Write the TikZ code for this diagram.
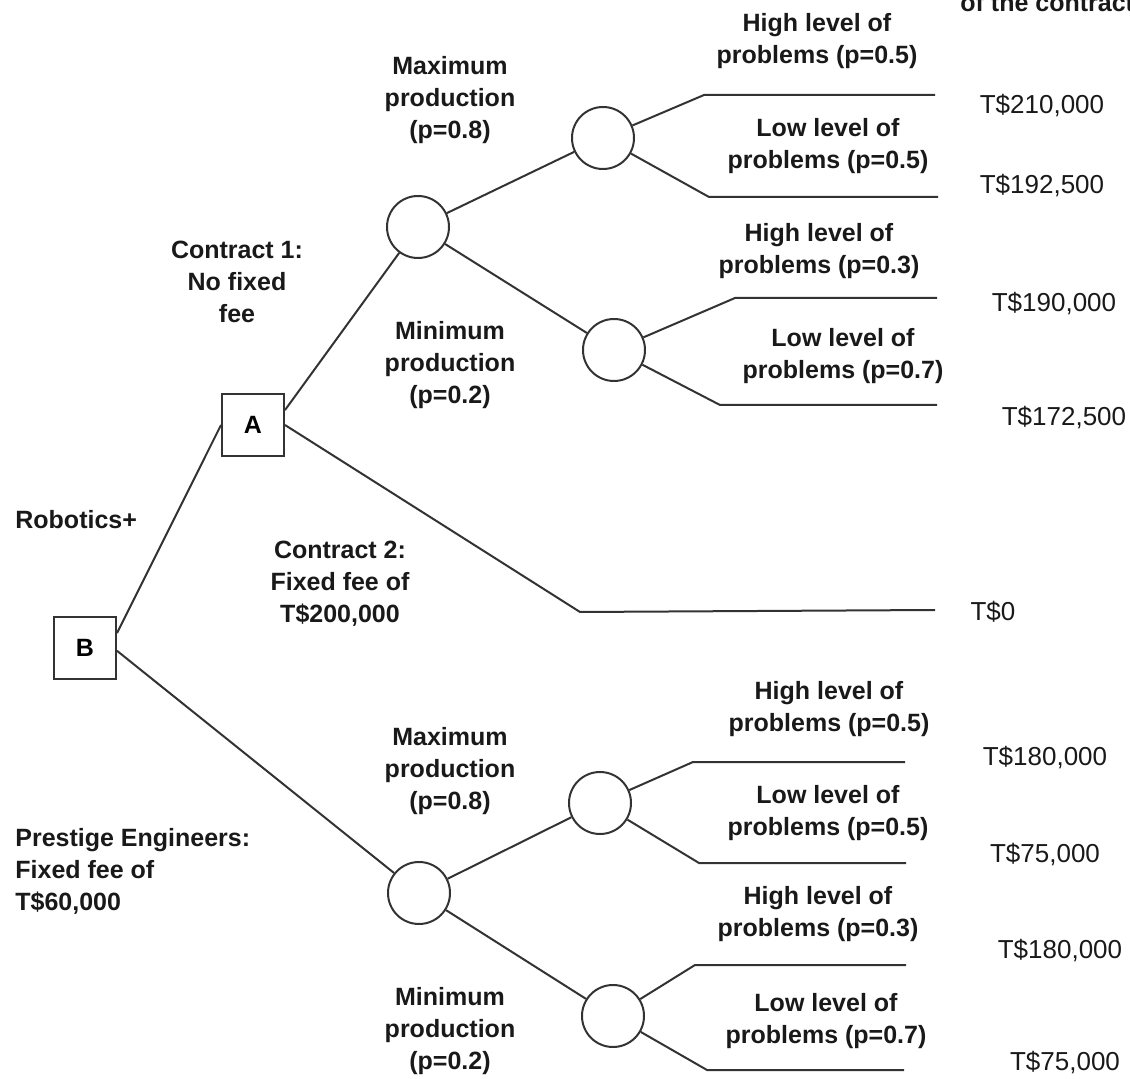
\documentclass[tikz,border=0pt]{standalone}
\usepackage{fontspec}
\setmainfont{Liberation Sans}
\tikzset{
  decision/.style={draw=black!80,line width=1pt,rectangle,minimum size=31pt,inner sep=0pt,font=\fontsize{12.5}{16}\selectfont\bfseries},
  chance/.style={draw=black!80,line width=1pt,circle,minimum size=31pt,inner sep=0pt},
  branch/.style={draw=black!80,line width=1pt},
  lbl/.style={align=center,inner sep=0pt,text=black!90,font=\fontsize{12.5}{16}\selectfont\bfseries},
  val/.style={inner sep=0pt,text=black!90,font=\fontsize{13}{16}\selectfont}
}
\begin{document}
\begin{tikzpicture}[x=0.5pt,y=-0.5pt]
    \useasboundingbox (0,0) rectangle (1130,1079);
    %% Cut-off heading
    \node[lbl,anchor=base west] (head) at (960,12) {of the contract};
    %% Decision nodes
    \node[decision] (B) at (85,648) {B};
    \node[decision] (A) at (253,425) {A};
    %% Chance nodes
    \node[chance] (C1) at (418,227) {};
    \node[chance] (C2) at (603,138) {};
    \node[chance] (C3) at (614,350) {};
    \node[chance] (C4) at (419,893) {};
    \node[chance] (C5) at (600,803) {};
    \node[chance] (C6) at (613,1016) {};
    %% Branch ends
    \coordinate (k2a) at (704,95);   \coordinate (e2a) at (935,95);
    \coordinate (k2b) at (709,197);  \coordinate (e2b) at (938,197);
    \coordinate (k3a) at (735,298);  \coordinate (e3a) at (937,298);
    \coordinate (k3b) at (720,405);  \coordinate (e3b) at (937,405);
    \coordinate (k0)  at (580,612);  \coordinate (e0)  at (935,610);
    \coordinate (k5a) at (693,762);  \coordinate (e5a) at (905,762);
    \coordinate (k5b) at (699,863);  \coordinate (e5b) at (906,863);
    \coordinate (k6a) at (695,965);  \coordinate (e6a) at (906,965);
    \coordinate (k6b) at (707,1070); \coordinate (e6b) at (904,1070);
    %% Connectors
    \draw[branch] (B.25) -- (A.west);
    \draw[branch] (B.-5) -- (C4);
    \draw[branch] (A.25) -- (C1);
    \draw[branch] (A.east) -- (k0) -- (e0);
    \draw[branch] (C1) -- (C2);
    \draw[branch] (C1) -- (C3);
    \draw[branch] (C2) -- (k2a) -- (e2a);
    \draw[branch] (C2) -- (k2b) -- (e2b);
    \draw[branch] (C3) -- (k3a) -- (e3a);
    \draw[branch] (C3) -- (k3b) -- (e3b);
    \draw[branch] (C4) -- (C5);
    \draw[branch] (C4) -- (C6);
    \draw[branch] (C5) -- (k5a) -- (e5a);
    \draw[branch] (C5) -- (k5b) -- (e5b);
    \draw[branch] (C6) -- (k6a) -- (e6a);
    \draw[branch] (C6) -- (k6b) -- (e6b);
    %% Labels, upper tree
    \node[lbl] (con1) at (237,282) {Contract 1:\\No fixed\\fee};
    \node[lbl] (max1) at (450,100) {Maximum\\production\\(p=0.8)};
    \node[lbl] (min1) at (450,365) {Minimum\\production\\(p=0.2)};
    \node[lbl] (hi2) at (817,41) {High level of\\problems (p=0.5)};
    \node[lbl] (lo2) at (828,146) {Low level of\\problems (p=0.5)};
    \node[lbl] (hi3) at (819,251) {High level of\\problems (p=0.3)};
    \node[lbl] (lo3) at (843,356) {Low level of\\problems (p=0.7)};
    \node[lbl,anchor=west] (rob) at (15,520) {Robotics+};
    \node[lbl] (con2) at (340,584) {Contract 2:\\Fixed fee of\\T\$200,000};
    %% Labels, lower tree
    \node[lbl,align=left,anchor=west] (pres) at (15,871) {Prestige Engineers:\\Fixed fee of\\T\$60,000};
    \node[lbl] (max4) at (450,771) {Maximum\\production\\(p=0.8)};
    \node[lbl] (min4) at (450,1031) {Minimum\\production\\(p=0.2)};
    \node[lbl] (hi5) at (829,709) {High level of\\problems (p=0.5)};
    \node[lbl] (lo5) at (828,813) {Low level of\\problems (p=0.5)};
    \node[lbl] (hi6) at (818,914) {High level of\\problems (p=0.3)};
    \node[lbl] (lo6) at (826,1021) {Low level of\\problems (p=0.7)};
    %% Payoffs
    \node[val] (v1) at (1042,106) {T\$210,000};
    \node[val] (v2) at (1042,186) {T\$192,500};
    \node[val] (v3) at (1054,304) {T\$190,000};
    \node[val] (v4) at (1064,418) {T\$172,500};
    \node[val] (v0) at (993,612) {T\$0};
    \node[val] (v5) at (1045,758) {T\$180,000};
    \node[val] (v6) at (1045,855) {T\$75,000};
    \node[val] (v7) at (1060,951) {T\$180,000};
    \node[val] (v8) at (1065,1063) {T\$75,000};
\end{tikzpicture}
\end{document}
